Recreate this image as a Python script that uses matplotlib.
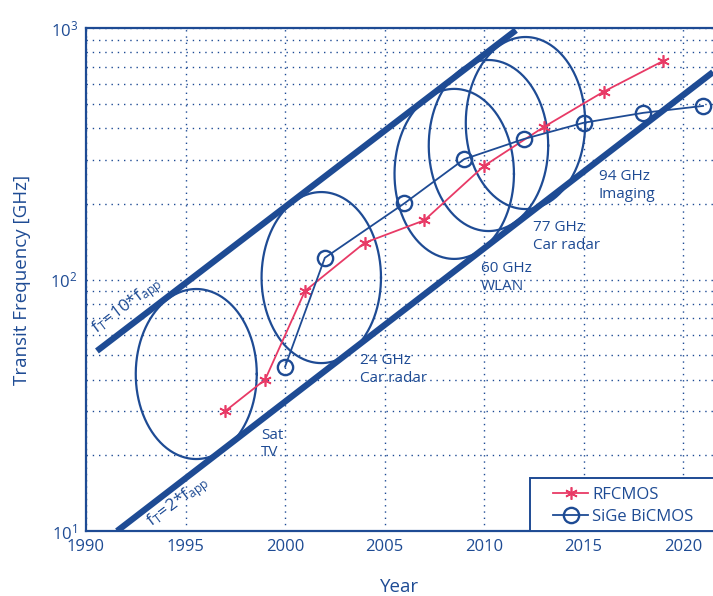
import numpy as np
import matplotlib
matplotlib.use('Agg')
import matplotlib.pyplot as plt
from matplotlib import rc
from matplotlib.patches import Rectangle

rc('font', **{'family': ['Open Sans', 'DejaVu Sans']})
rc('mathtext', fontset='custom', rm='Open Sans', it='Open Sans:italic')

blue = '#1e4b94'
red = '#e83a66'

# measured series
rf_year = [1997, 1999, 2001, 2004, 2007, 2010, 2013, 2016, 2019]
rf_ft = [30, 40, 90, 140, 172, 283, 404, 558, 740]
sige_year = [2000, 2002, 2006, 2009, 2012, 2015, 2018, 2021]
sige_ft = [45, 122, 201, 301, 362, 420, 460, 490]

# f_T bounds (year, GHz) start and end
upper_year = [1990.55, 2011.6]
upper_ft = [52, 980]
lower_year = [1991.56, 2021.5]
lower_ft = [10, 668]

# application ellipses: centre year, centre GHz, half-width (years), half-height (decades)
app_year = [1995.54, 2001.82, 2008.5, 2010.22, 2012.08]
app_ft = [42.1, 101.8, 263, 341, 419]
app_dx = [3.04, 3.0, 3.0, 3.0, 3.0]
app_dy = [0.338, 0.34, 0.338, 0.34, 0.342]
app_labels = ['Sat\nTV', '24 GHz\nCar radar', '60 GHz\nWLAN', '77 GHz\nCar radar', '94 GHz\nImaging']
label_year = [1998.8, 2003.75, 2009.85, 2012.45, 2015.75]
label_ft = [22.2, 44, 102, 148, 237]

fig = plt.figure(figsize=(7.13, 5.96), dpi=100)
ax = fig.add_axes([0.1206, 0.109, 0.8794, 0.844])
ax.set_yscale('log')
ax.set_xlim(1990, 2021.5)
ax.set_ylim(10, 1000)

ax.grid(True, which='major', axis='x', color=blue, linestyle=(0, (1, 3.5)), linewidth=1)
ax.grid(True, which='both', axis='y', color=blue, linestyle=(0, (1, 3.5)), linewidth=1)
ax.tick_params(which='both', length=0, labelcolor=blue, labelsize=12, pad=6)
ax.set_xticks(range(1990, 2021, 5))
for s in ['left', 'bottom', 'top']:
    ax.spines[s].set_color(blue)
    ax.spines[s].set_linewidth(1.6)
ax.spines['right'].set_visible(False)

ax.plot(upper_year, upper_ft, color=blue, lw=4.5, solid_capstyle='butt')
ax.plot(lower_year, lower_ft, color=blue, lw=4.5, solid_capstyle='butt')

t = np.linspace(0, 2 * np.pi, 300)
for cx, cy, dx, dy in zip(app_year, app_ft, app_dx, app_dy):
    ax.plot(cx + dx * np.cos(t), 10 ** (np.log10(cy) + dy * np.sin(t)), color=blue, lw=1.6)

for lab, lx, ly in zip(app_labels, label_year, label_ft):
    ax.text(lx, ly, lab, color=blue, fontsize=11, ha='left', va='center', linespacing=1.25)

ax.text(1990.5, 61, r'$\mathregular{f_T\!=\!10{*}f_{app}}$', color=blue, fontsize=12.5,
        rotation=37, rotation_mode='anchor', ha='left', va='baseline')
ax.text(1993.3, 10.4, r'$\mathregular{f_T\!=\!2{*}f_{app}}$', color=blue, fontsize=12.5,
        rotation=37, rotation_mode='anchor', ha='left', va='baseline')

ax.plot(rf_year, rf_ft, color=red, lw=1.3, marker=(6, 2, 0), markersize=9,
        markeredgewidth=1.2, label='RFCMOS')
ax.plot(sige_year, sige_ft, color=blue, lw=1.3, marker='o', markersize=11,
        markerfacecolor='none', markeredgewidth=1.7, label='SiGe BiCMOS')

# legend box runs off the right edge, as in the original
ax.add_patch(Rectangle((0.708, 0), 0.4, 0.105, transform=ax.transAxes, clip_on=False,
                       facecolor='white', edgecolor=blue, linewidth=1.4, zorder=4))
leg = ax.legend(loc='lower left', bbox_to_anchor=(0.745, 0.012), borderaxespad=0,
                fontsize=12, frameon=False, labelcolor=blue, handlelength=2.1,
                borderpad=0, labelspacing=0.35, handletextpad=0.25)
leg.set_zorder(5)

fig.text(0.561, 0.015, 'Year', color=blue, fontsize=13.5, ha='center', va='center')
ax.set_ylabel('Transit Frequency [GHz]', color=blue, fontsize=13.5)
ax.yaxis.set_label_coords(-0.087, 0.5)

fig.savefig('out.png', dpi=100)
